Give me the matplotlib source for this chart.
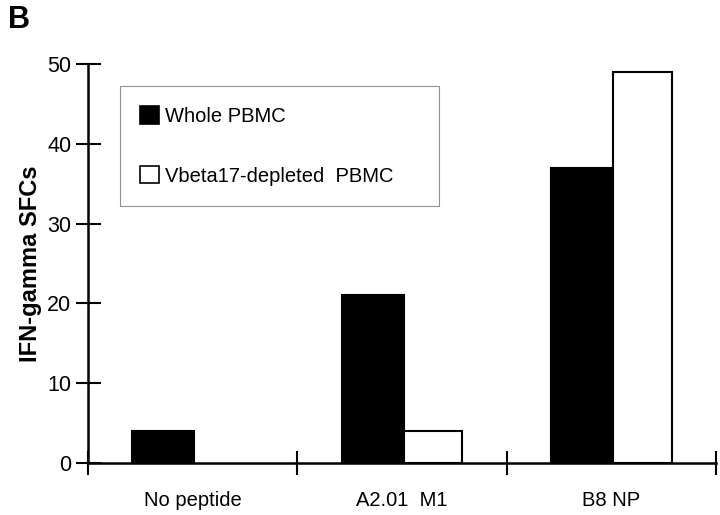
import matplotlib
matplotlib.use("Agg")
import matplotlib.pyplot as plt
from matplotlib.patches import Patch

categories = ["No peptide", "A2.01  M1", "B8 NP"]
whole_pbmc = [4, 21, 37]
depleted_pbmc = [0, 4, 49]
series_names = ["Whole PBMC", "Vbeta17-depleted  PBMC"]
y_ticks = [0, 10, 20, 30, 40, 50]

plt.rcParams['font.family'] = ['Liberation Sans', 'DejaVu Sans']

fig = plt.figure(figsize=(7.2, 5.15), dpi=100)
ax = fig.add_axes([88/720, 1-463/515, (716-88)/720, (463-64)/515])

wb = 0.297
ww = 0.28
centers = [i + 0.5 for i in range(len(categories))]
for c, v in zip(centers, whole_pbmc):
    if v > 0:
        ax.bar(c + 0.008, v, width=-wb, color='black', edgecolor='black', linewidth=1.5, align='edge')
for c, v in zip(centers, depleted_pbmc):
    if v > 0:
        ax.bar(c + 0.008, v, width=ww, color='white', edgecolor='black', linewidth=1.5, align='edge')

ax.set_xlim(0, 3)
ax.set_ylim(0, 50)
ax.set_yticks(y_ticks)
ax.set_yticklabels([str(t) for t in y_ticks], fontsize=15.5)
ax.set_xticks([0, 1, 2, 3])
ax.set_xticklabels([])
ax.set_xticks(centers, minor=True)
ax.set_xticklabels(categories, minor=True, fontsize=14.5)
ax.tick_params(axis='x', which='minor', length=0, pad=20)
ax.tick_params(axis='x', which='major', direction='inout', length=17, width=1.5)
ax.tick_params(axis='y', which='major', direction='inout', length=18, width=1.5, pad=3)

for s in ['top', 'right']:
    ax.spines[s].set_visible(False)
for s in ['left', 'bottom']:
    ax.spines[s].set_linewidth(1.8)
ax.spines['left'].set_zorder(3)

ax.set_ylabel("IFN-gamma SFCs", fontsize=17, fontweight='bold', labelpad=4)

handles = [Patch(facecolor='black', edgecolor='black', linewidth=1.2),
           Patch(facecolor='white', edgecolor='black', linewidth=1.2)]
leg = ax.legend(handles, series_names, loc='upper left',
                bbox_to_anchor=(120/720, 1-207/515, (439-120)/720, (207-86)/515),
                bbox_transform=fig.transFigure, mode='expand', borderaxespad=0,
                fontsize=14.5, frameon=True, fancybox=False, edgecolor='#777777',
                borderpad=1.0, labelspacing=2.0, handlelength=0.95, handleheight=0.95,
                handletextpad=0.3)
leg.get_frame().set_linewidth(0.8)

fig.text(8/720, 1-28/515, "B", fontsize=22, fontweight='bold', ha='left', va='baseline')

fig.savefig("out.png", dpi=100)
